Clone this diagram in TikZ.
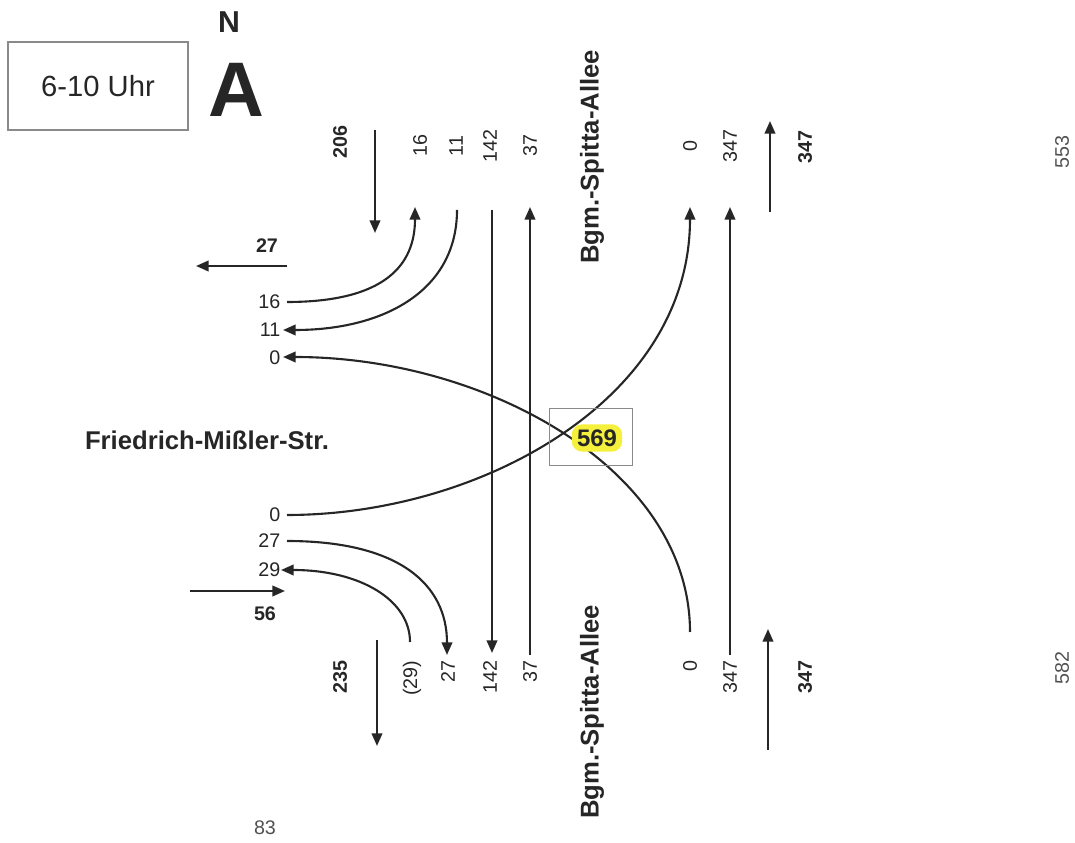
\documentclass[tikz,border=0pt]{standalone}
\usepackage{fontspec}
\setmainfont{Liberation Sans}
\usetikzlibrary{arrows.meta,positioning}
\definecolor{ink}{HTML}{262626}
\definecolor{frame}{HTML}{8A8A8A}
\definecolor{marker}{HTML}{F4F03C}

\begin{document}
\begin{tikzpicture}[x=0.01cm,y=-0.01cm,
  num/.style={font=\fontsize{5.6}{6.7}\selectfont,text=ink,inner sep=0pt},
  bnum/.style={num,font=\fontsize{5.6}{6.7}\selectfont\bfseries},
  street/.style={font=\fontsize{7.3}{8.5}\selectfont\bfseries,text=ink,inner sep=0pt},
  flow/.style={draw=ink,line width=0.6pt,-{Triangle[length=3.6pt,width=3pt]}},
  road/.style={draw=ink,line width=0.6pt}]
  \useasboundingbox (0,0) rectangle (1075,843);
  % header
  \node[draw=frame,line width=0.5pt,minimum width=1.8cm,minimum height=0.88cm,
        font=\fontsize{8.3}{10}\selectfont,text=ink] (slot) at (98,86) {6-10 Uhr};
  \node[font=\fontsize{8.6}{10}\selectfont\bfseries,text=ink] (north) at (229,22) {N};
  \node[font=\fontsize{22}{26}\selectfont\bfseries,text=ink] (site) at (236,90) {A};
  % street names
  \node[street,rotate=90] (bsa1) at (592,157) {Bgm.-Spitta-Allee};
  \node[street,rotate=90] (bsa2) at (592,712) {Bgm.-Spitta-Allee};
  \node[street] (fms) at (207,440) {Friedrich-Mißler-Str.};
  % lane counts, north arm
  \foreach \x/\t/\n in {420/16/t16,456/11/t11,490/142/t142,530/37/t37,690/0/t0,730/347/t347}
    \node[num,rotate=90] (\n) at (\x,146) {\t};
  \node[bnum,rotate=90] (t206) at (340,142) {206};
  \node[bnum,rotate=90] (t347s) at (805,147) {347};
  % lane counts, south arm
  \foreach \x/\t/\n in {412/(29)/s29,448/27/s27,490/142/s142,530/37/s37,690/0/s0,730/347/s347}
    \node[num,rotate=90,anchor=east] (\n) at (\x,660) {\t};
  \node[bnum,rotate=90,anchor=east] (s235) at (340,660) {235};
  \node[bnum,rotate=90,anchor=east] (s347s) at (805,660) {347};
  % lane counts, west arm
  \foreach \y/\t/\n in {302/16/w16,330/11/w11,358/0/w0,515/0/w0b,541/27/w27,570/29/w29}
    \node[num,anchor=east] (\n) at (281,\y) {\t};
  \node[bnum] (w27s) at (267,246) {27};
  \node[bnum] (w56s) at (265,614) {56};
  % cross sections
  \node[num,rotate=90,text=ink!80] (q553) at (1062,152) {553};
  \node[num,rotate=90,text=ink!80] (q582) at (1062,668) {582};
  \node[num,text=ink!80] (q83) at (265,828) {83};
  % line ends
  \coordinate (n16) at (415,207);  \coordinate (n11) at (457,210);
  \coordinate (n142) at (492,210); \coordinate (n37) at (530,207);
  \coordinate (n0) at (690,207);   \coordinate (n347) at (730,207);
  \coordinate (d142) at (492,653); \coordinate (d37) at (530,655);
  \coordinate (d0) at (690,632);   \coordinate (d347) at (730,655);
  \coordinate (d27) at (447,655);  \coordinate (d29) at (410,642);
  \coordinate (e16) at (287,302);  \coordinate (e11) at (283,330);
  \coordinate (e0) at (283,357);   \coordinate (e0b) at (287,515);
  \coordinate (e27) at (287,541);  \coordinate (e29) at (281,570);
  % turning and through flows
  \draw[flow] (e16) .. controls (385,302) and (415,265) .. (n16);
  \draw[flow] (n11) .. controls (457,290) and (385,330) .. (e11);
  \draw[flow] (n142) -- (d142);
  \draw[flow] (d37) -- (n37);
  \draw[flow] (d347) -- (n347);
  \draw[flow] (e0b) .. controls (480,515) and (690,400) .. (n0);
  \draw[flow] (d0) .. controls (690,470) and (487,357) .. (e0);
  \draw[flow] (e27) .. controls (400,541) and (447,585) .. (d27);
  \draw[flow] (d29) .. controls (410,600) and (360,570) .. (e29);
  % arm totals
  \coordinate (i206a) at (375,130); \coordinate (i206b) at (375,233);
  \coordinate (o27a) at (287,266);  \coordinate (o27b) at (196,266);
  \coordinate (o347a) at (770,212); \coordinate (o347b) at (770,121);
  \coordinate (i347a) at (768,750); \coordinate (i347b) at (768,629);
  \coordinate (o235a) at (377,640); \coordinate (o235b) at (377,746);
  \coordinate (i56a) at (190,591);  \coordinate (i56b) at (285,591);
  \foreach \a/\b in {i206a/i206b,o27a/o27b,o347a/o347b,i347a/i347b,o235a/o235b,i56a/i56b}
    \draw[flow] (\a) -- (\b);
  % junction total
  \node[draw=frame,line width=0.5pt,minimum width=0.83cm,minimum height=0.57cm] (jbox) at (591,437) {};
  \node[fill=marker,rounded corners=3pt,inner sep=1.5pt,
        font=\fontsize{6.8}{8}\selectfont\bfseries,text=ink] (jsum) at (597,438) {569};
\end{tikzpicture}
\end{document}
